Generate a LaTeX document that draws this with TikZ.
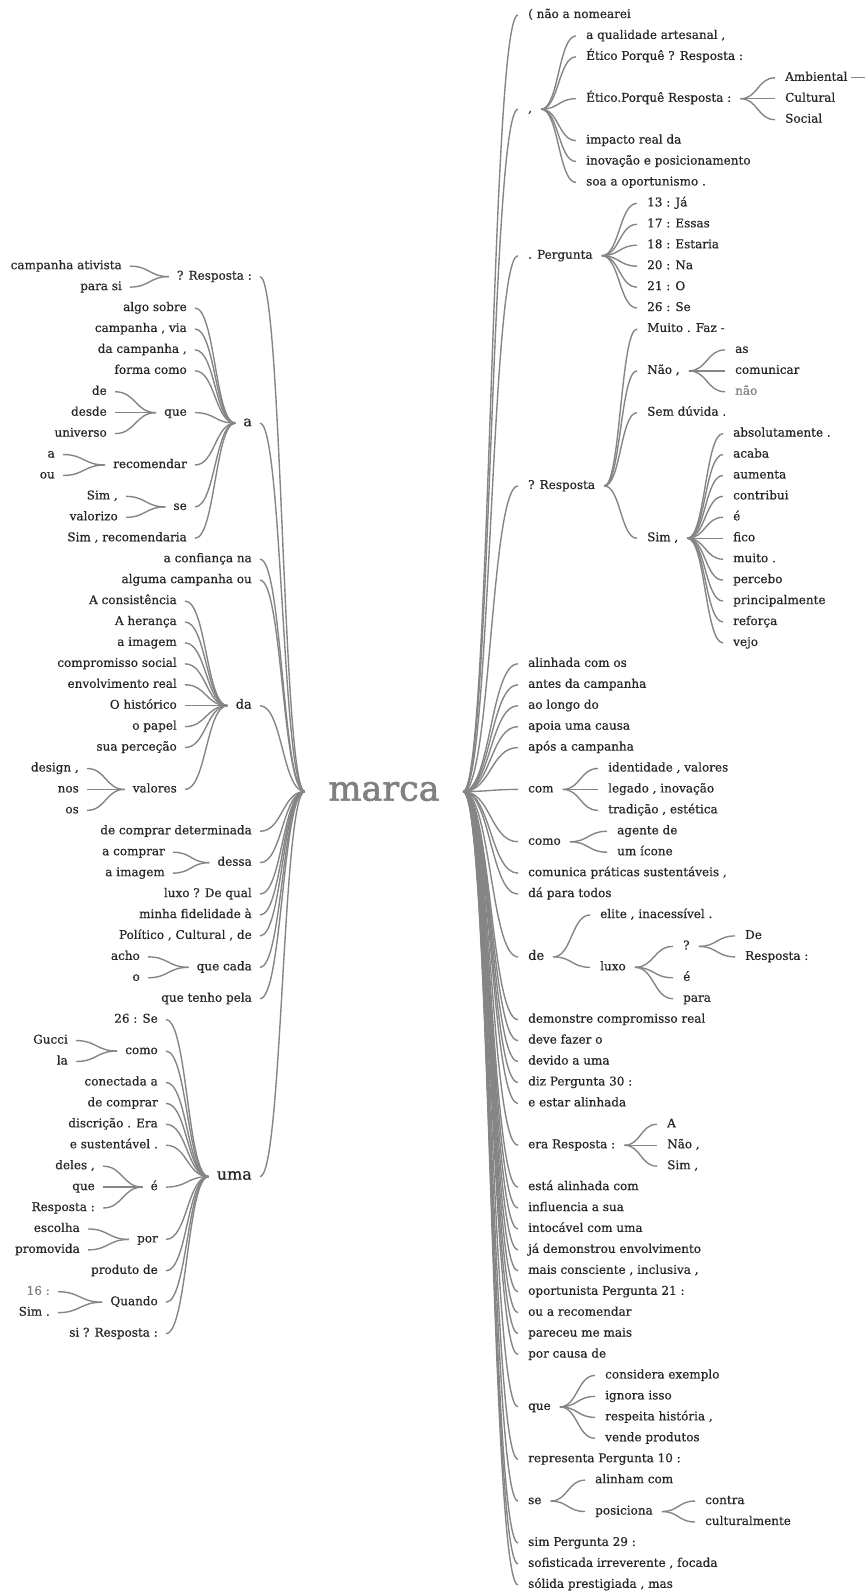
\documentclass[tikz,border=0pt]{standalone}
\usepackage{fontspec}
\newfontfamily\wtfont{DejaVu Serif}[FakeBold=0.6]
\newfontfamily\rootfont{DejaVu Serif}[FakeBold=1.6]
\usetikzlibrary{calc}
\tikzset{
  word/.style={font=\wtfont\fontsize{12pt}{14pt}\selectfont, text=black!85,
    inner sep=0pt, text height=8.5pt, text depth=2.5pt},
  rw/.style={word, anchor=west},
  lw/.style={word, anchor=east},
  fs/.style={font=\wtfont\fontsize{#1}{#1}\selectfont},
  faint/.style={text=black!50},
  link/.style={draw=black!48, line width=1.4pt},
}
% S-shaped connector with horizontal ends
\newcommand{\wlink}[2]{\draw[link] let \p1=(#1), \p2=(#2) in
  (\p1) .. controls ({(\x1+\x2)/2},\y1) and ({(\x1+\x2)/2},\y2) .. (\p2);}
% parent on the left, child on the right
\newcommand{\rlink}[2]{\wlink{[xshift=9pt]#1.east}{[xshift=-10pt]#2.west}}
% parent on the right, child on the left
\newcommand{\llink}[2]{\wlink{[xshift=-8pt]#1.west}{[xshift=8pt]#2.east}}
\newcommand{\rootr}[1]{\wlink{root.east}{[xshift=-10pt]#1.west}}
\newcommand{\rootl}[1]{\wlink{root.west}{[xshift=8pt]#1.east}}

\begin{document}
\begin{tikzpicture}[x=1pt, y=-20.93pt]
\useasboundingbox (0,-0.7167) rectangle (864,75.346);

% root word
\node[font=\rootfont\fontsize{35pt}{35pt}\selectfont, text=black!50, inner sep=0pt,
  minimum width=158pt] (root) at (384,37.1) {marca};

% ---------------- right tree: words following "marca" ----------------
\node[rw] (r0)  at (528,0)    {( não a nomearei};
\node[rw] (r1)  at (528,4.5)  {,};
\node[rw] (r2)  at (528,11.5) {. Pergunta};
\node[rw] (r3)  at (528,22.5) {? Resposta};
\node[rw] (r4)  at (528,31)   {alinhada com os};
\node[rw] (r5)  at (528,32)   {antes da campanha};
\node[rw] (r6)  at (528,33)   {ao longo do};
\node[rw] (r7)  at (528,34)   {apoia uma causa};
\node[rw] (r8)  at (528,35)   {após a campanha};
\node[rw] (r9)  at (528,37)   {com};
\node[rw] (r10) at (528,39.5) {como};
\node[rw] (r11) at (528,41)   {comunica práticas sustentáveis ,};
\node[rw] (r12) at (528,42)   {dá para todos};
\node[rw,fs=13pt] (r13) at (528,45) {de};
\node[rw] (r14) at (528,48)   {demonstre compromisso real};
\node[rw] (r15) at (528,49)   {deve fazer o};
\node[rw] (r16) at (528,50)   {devido a uma};
\node[rw] (r17) at (528,51)   {diz Pergunta 30 :};
\node[rw] (r18) at (528,52)   {e estar alinhada};
\node[rw] (r19) at (528,54)   {era Resposta :};
\node[rw] (r20) at (528,56)   {está alinhada com};
\node[rw] (r21) at (528,57)   {influencia a sua};
\node[rw] (r22) at (528,58)   {intocável com uma};
\node[rw] (r23) at (528,59)   {já demonstrou envolvimento};
\node[rw] (r24) at (528,60)   {mais consciente , inclusiva ,};
\node[rw] (r25) at (528,61)   {oportunista Pergunta 21 :};
\node[rw] (r26) at (528,62)   {ou a recomendar};
\node[rw] (r27) at (528,63)   {pareceu me mais};
\node[rw] (r28) at (528,64)   {por causa de};
\node[rw] (r29) at (528,66.5) {que};
\node[rw] (r30) at (528,69)   {representa Pergunta 10 :};
\node[rw] (r31) at (528,71)   {se};
\node[rw] (r32) at (528,73)   {sim Pergunta 29 :};
\node[rw] (r33) at (528,74)   {sofisticada irreverente , focada};
\node[rw] (r34) at (528,75)   {sólida prestigiada , mas};
\foreach \nd in {r0,r1,r2,r3,r4,r5,r6,r7,r8,r9,r10,r11,r12,r13,r14,r15,r16,r17,
  r18,r19,r20,r21,r22,r23,r24,r25,r26,r27,r28,r29,r30,r31,r32,r33,r34}{\rootr{\nd}}

% after ","
\node[rw] (r1a) at (586,1) {a qualidade artesanal ,};
\node[rw] (r1b) at (586,2) {Ético Porquê ? Resposta :};
\node[rw] (r1c) at (586,4) {Ético.Porquê Resposta :};
\node[rw] (r1d) at (586,6) {impacto real da};
\node[rw] (r1e) at (586,7) {inovação e posicionamento};
\node[rw] (r1f) at (586,8) {soa a oportunismo .};
\foreach \nd in {r1a,r1b,r1c,r1d,r1e,r1f}{\rlink{r1}{\nd}}
\node[rw] (amb) at (785,3) {Ambiental};
\node[rw] (cul) at (785,4) {Cultural};
\node[rw] (soc) at (785,5) {Social};
\foreach \nd in {amb,cul,soc}{\rlink{r1c}{\nd}}
\coordinate (ambcut) at (866,3);
\draw[link] ([xshift=3pt]amb.east) -- (ambcut);

% after ". Pergunta"
\node[rw] (p13) at (647,9)  {13 : Já};
\node[rw] (p17) at (647,10) {17 : Essas};
\node[rw] (p18) at (647,11) {18 : Estaria};
\node[rw] (p20) at (647,12) {20 : Na};
\node[rw] (p21) at (647,13) {21 : O};
\node[rw] (p26) at (647,14) {26 : Se};
\foreach \nd in {p13,p17,p18,p20,p21,p26}{\rlink{r2}{\nd}}

% after "? Resposta"
\node[rw] (q1) at (647,15) {Muito . Faz -};
\node[rw] (q2) at (647,17) {Não ,};
\node[rw] (q3) at (647,19) {Sem dúvida .};
\node[rw] (q4) at (647,25) {Sim ,};
\foreach \nd in {q1,q2,q3,q4}{\rlink{r3}{\nd}}
\node[rw] (q2a) at (735,16) {as};
\node[rw] (q2b) at (735,17) {comunicar};
\node[rw,faint] (q2c) at (735,18) {não};
\foreach \nd in {q2a,q2b,q2c}{\rlink{q2}{\nd}}
\node[rw] (s1)  at (733,20) {absolutamente .};
\node[rw] (s2)  at (733,21) {acaba};
\node[rw] (s3)  at (733,22) {aumenta};
\node[rw] (s4)  at (733,23) {contribui};
\node[rw] (s5)  at (733,24) {é};
\node[rw] (s6)  at (733,25) {fico};
\node[rw] (s7)  at (733,26) {muito .};
\node[rw] (s8)  at (733,27) {percebo};
\node[rw] (s9)  at (733,28) {principalmente};
\node[rw] (s10) at (733,29) {reforça};
\node[rw] (s11) at (733,30) {vejo};
\foreach \nd in {s1,s2,s3,s4,s5,s6,s7,s8,s9,s10,s11}{\rlink{q4}{\nd}}

% after "com" and "como"
\node[rw] (c1) at (608,36) {identidade , valores};
\node[rw] (c2) at (608,37) {legado , inovação};
\node[rw] (c3) at (608,38) {tradição , estética};
\foreach \nd in {c1,c2,c3}{\rlink{r9}{\nd}}
\node[rw] (m1) at (617,39) {agente de};
\node[rw] (m2) at (617,40) {um ícone};
\foreach \nd in {m1,m2}{\rlink{r10}{\nd}}

% after "de"
\node[rw] (d1) at (600,43)   {elite , inacessível .};
\node[rw] (d2) at (600,45.5) {luxo};
\foreach \nd in {d1,d2}{\rlink{r13}{\nd}}
\node[rw] (x1) at (683,44.5) {?};
\node[rw] (x2) at (683,46)   {é};
\node[rw] (x3) at (683,47)   {para};
\foreach \nd in {x1,x2,x3}{\rlink{d2}{\nd}}
\node[rw] (y1) at (745,44) {De};
\node[rw] (y2) at (745,45) {Resposta :};
\foreach \nd in {y1,y2}{\rlink{x1}{\nd}}

% after "era Resposta :"
\node[rw] (e1) at (667,53) {A};
\node[rw] (e2) at (667,54) {Não ,};
\node[rw] (e3) at (667,55) {Sim ,};
\foreach \nd in {e1,e2,e3}{\rlink{r19}{\nd}}

% after "que"
\node[rw] (u1) at (605,65) {considera exemplo};
\node[rw] (u2) at (605,66) {ignora isso};
\node[rw] (u3) at (605,67) {respeita história ,};
\node[rw] (u4) at (605,68) {vende produtos};
\foreach \nd in {u1,u2,u3,u4}{\rlink{r29}{\nd}}

% after "se"
\node[rw] (v1) at (595,70)   {alinham com};
\node[rw] (v2) at (595,71.5) {posiciona};
\foreach \nd in {v1,v2}{\rlink{r31}{\nd}}
\node[rw] (w1) at (705,71) {contra};
\node[rw] (w2) at (705,72) {culturalmente};
\foreach \nd in {w1,w2}{\rlink{v2}{\nd}}

% ---------------- left tree: words preceding "marca" ----------------
\node[lw] (l0)  at (252,12.5) {? Resposta :};
\node[lw,fs=14pt] (l1) at (252,19.5) {a};
\node[lw] (l2)  at (252,26)   {a confiança na};
\node[lw] (l3)  at (252,27)   {alguma campanha ou};
\node[lw,fs=13pt] (l4) at (252,33) {da};
\node[lw] (l5)  at (252,39)   {de comprar determinada};
\node[lw] (l6)  at (252,40.5) {dessa};
\node[lw] (l7)  at (252,42)   {luxo ? De qual};
\node[lw] (l8)  at (252,43)   {minha fidelidade à};
\node[lw] (l9)  at (252,44)   {Político , Cultural , de};
\node[lw] (l10) at (252,45.5) {que cada};
\node[lw] (l11) at (252,47)   {que tenho pela};
\node[lw,fs=16pt] (l12) at (252,55.5) {uma};
\foreach \nd in {l0,l1,l2,l3,l4,l5,l6,l7,l8,l9,l10,l11,l12}{\rootl{\nd}}

% before "? Resposta :"
\node[lw] (a1) at (122,12) {campanha ativista};
\node[lw] (a2) at (122,13) {para si};
\foreach \nd in {a1,a2}{\llink{l0}{\nd}}

% before "a"
\node[lw] (b1) at (187,14)   {algo sobre};
\node[lw] (b2) at (187,15)   {campanha , via};
\node[lw] (b3) at (187,16)   {da campanha ,};
\node[lw] (b4) at (187,17)   {forma como};
\node[lw] (b5) at (187,19)   {que};
\node[lw] (b6) at (187,21.5) {recomendar};
\node[lw] (b7) at (187,23.5) {se};
\node[lw] (b8) at (187,25)   {Sim , recomendaria};
\foreach \nd in {b1,b2,b3,b4,b5,b6,b7,b8}{\llink{l1}{\nd}}
\node[lw] (b5a) at (107,18) {de};
\node[lw] (b5b) at (107,19) {desde};
\node[lw] (b5c) at (107,20) {universo};
\foreach \nd in {b5a,b5b,b5c}{\llink{b5}{\nd}}
\node[lw] (b6a) at (55,21) {a};
\node[lw] (b6b) at (55,22) {ou};
\foreach \nd in {b6a,b6b}{\llink{b6}{\nd}}
\node[lw] (b7a) at (118,23) {Sim ,};
\node[lw] (b7b) at (118,24) {valorizo};
\foreach \nd in {b7a,b7b}{\llink{b7}{\nd}}

% before "da"
\node[lw] (f1) at (177,28) {A consistência};
\node[lw] (f2) at (177,29) {A herança};
\node[lw] (f3) at (177,30) {a imagem};
\node[lw] (f4) at (177,31) {compromisso social};
\node[lw] (f5) at (177,32) {envolvimento real};
\node[lw] (f6) at (177,33) {O histórico};
\node[lw] (f7) at (177,34) {o papel};
\node[lw] (f8) at (177,35) {sua perceção};
\node[lw] (f9) at (177,37) {valores};
\foreach \nd in {f1,f2,f3,f4,f5,f6,f7,f8,f9}{\llink{l4}{\nd}}
\node[lw] (f9a) at (79,36) {design ,};
\node[lw] (f9b) at (79,37) {nos};
\node[lw] (f9c) at (79,38) {os};
\foreach \nd in {f9a,f9b,f9c}{\llink{f9}{\nd}}

% before "dessa" and "que cada"
\node[lw] (g1) at (165,40) {a comprar};
\node[lw] (g2) at (165,41) {a imagem};
\foreach \nd in {g1,g2}{\llink{l6}{\nd}}
\node[lw] (h1) at (140,45) {acho};
\node[lw] (h2) at (140,46) {o};
\foreach \nd in {h1,h2}{\llink{l10}{\nd}}

% before "uma"
\node[lw] (k1)  at (158,48)   {26 : Se};
\node[lw] (k2)  at (158,49.5) {como};
\node[lw] (k3)  at (158,51)   {conectada a};
\node[lw] (k4)  at (158,52)   {de comprar};
\node[lw] (k5)  at (158,53)   {discrição . Era};
\node[lw] (k6)  at (158,54)   {e sustentável .};
\node[lw] (k7)  at (158,56)   {é};
\node[lw] (k8)  at (158,58.5) {por};
\node[lw] (k9)  at (158,60)   {produto de};
\node[lw] (k10) at (158,61.5) {Quando};
\node[lw] (k11) at (158,63)   {si ? Resposta :};
\foreach \nd in {k1,k2,k3,k4,k5,k6,k7,k8,k9,k10,k11}{\llink{l12}{\nd}}
\node[lw] (k2a) at (68,49) {Gucci};
\node[lw] (k2b) at (68,50) {la};
\foreach \nd in {k2a,k2b}{\llink{k2}{\nd}}
\node[lw] (k7a) at (95,55) {deles ,};
\node[lw] (k7b) at (95,56) {que};
\node[lw] (k7c) at (95,57) {Resposta :};
\foreach \nd in {k7a,k7b,k7c}{\llink{k7}{\nd}}
\node[lw] (k8a) at (80,58) {escolha};
\node[lw] (k8b) at (80,59) {promovida};
\foreach \nd in {k8a,k8b}{\llink{k8}{\nd}}
\node[lw,faint] (k10a) at (50,61) {16 :};
\node[lw] (k10b) at (50,62) {Sim .};
\foreach \nd in {k10a,k10b}{\llink{k10}{\nd}}
\end{tikzpicture}
\end{document}
